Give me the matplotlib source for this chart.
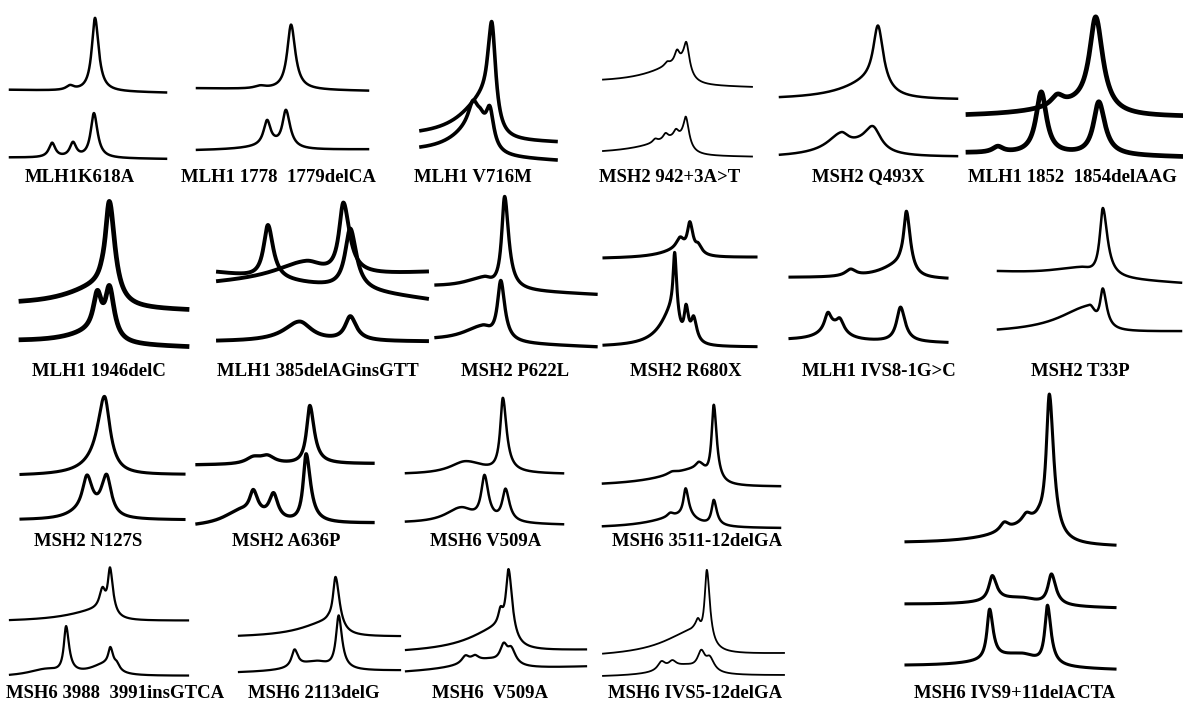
import numpy as np
import matplotlib.pyplot as plt

# Chromatogram traces: each trace = ((baseline left, baseline right), [(retention, height, width left, width right), ...])
# retention in 0..10, signal in 0..100 (relative to the panel)
k618a = [((48, 46), [(3.85, 3, .3, .3), (5.45, 51, .25, .28)]),
         ((1, 0), [(2.7, 10, .25, .25), (4.04, 10, .25, .25), (5.38, 31, .25, .28)])]
delca = [((49, 47), [(3.7, 2, .4, .4), (5.5, 50, .27, .3)]),
         ((1, 2), [(4.5, 3, 2, .5), (4.1, 19, .25, .25), (5.2, 29, .25, .3)])]
v716m = [((17, 14), [(4.9, 30, 2.2, .4), (5.26, 67, .3, .35)]),
         ((6, 1), [(4.3, 25, 2.0, .6), (3.85, 14, .4, .4), (5.1, 26, .35, .35)])]
msh2_942 = [((62, 59), [(5.3, 18, 2.5, .5), (4.3, 3, .2, .2), (4.97, 10, .2, .2), (5.6, 22, .2, .25)]),
            ((2.5, 1), [(5.3, 15, 2.8, .45), (3.5, 3, .2, .2), (4.2, 5, .2, .2), (4.9, 6, .2, .2), (5.57, 21, .18, .25)])]
q493x = [((44, 44), [(5.3, 14, 2.0, .8), (5.54, 42, .32, .35)]),
         ((1, 1.5), [(4.3, 7, 2, 1.2), (3.45, 11, .9, .5), (5.25, 18, .6, .55)])]
aag = [((28, 28), [(5.5, 8, 2.5, .8), (4.19, 7, .35, .35), (6.0, 62, .35, .4)]),
       ((3.4, .7), [(1.4, 4, .3, .3), (3.44, 42, .3, .3), (6.14, 36, .3, .35)])]

delc = [((28, 25), [(4.8, 14, 2.5, .5), (5.33, 66, .3, .4)]),
        ((3.4, 0), [(4.5, 8, 2.0, .6), (4.6, 24, .3, .3), (5.33, 34, .3, .35)])]
gtt = [((50, 31), [(2.39, 38, .25, .3), (6.33, 43, .3, .35)]),
       ((42, 50), [(4.2, 12, 1.8, 1.0), (6.0, 50, .25, .35)]),
       ((1, 1), [(3.9, 14, .9, .7), (6.33, 17, .3, .35)])]
p622l = [((39.5, 34.7), [(3.0, 7, 1.5, .6), (4.29, 61, .22, .3)]),
         ((4, 0), [(2.9, 10, 1.5, .7), (4.05, 39, .25, .3)])]
r680x = [((68, 69), [(5.0, 6, 1.5, .6), (5.0, 8, .3, .3), (5.65, 23, .2, .25), (6.2, 6, .2, .3)]),
         ((0, 0), [(4.6, 30, 1.0, .35), (4.65, 42, .12, .15), (5.4, 24, .15, .2), (5.9, 18, .2, .25)])]
ivs8 = [((49, 48), [(7.0, 10, 1.5, .4), (3.86, 5, .4, .4), (7.42, 46, .22, .3)]),
        ((2, 0), [(2.8, 10, 1.0, .8), (2.41, 12, .25, .25), (3.18, 8, .25, .3), (7.04, 26, .3, .35)])]
t33p = [((48, 39.5), [(4.5, 7, 2.0, .8), (5.73, 54, .2, .3)]),
        ((0, 1.3), [(5.0, 20, 2.0, .4), (5.73, 30, .18, .25)])]

n127s = [((35.7, 36.5), [(5.0, 10, 1.2, .6), (5.13, 54, .5, .4)]),
         ((0, 0), [(3.5, 4, 1, 1), (4.05, 30, .35, .4), (5.25, 33, .4, .35)])]
a636p = [((50, 51), [(3.2, 5, .5, .5), (4.0, 6, .5, .5), (6.41, 47, .22, .3)]),
         ((0, 2.7), [(2.5, 12, 1.2, 1.5), (3.2, 18, .25, .3), (4.35, 20, .3, .3), (6.2, 55, .2, .3)])]
v509a = [((39.5, 39.5), [(3.8, 10, 1.2, 1.5), (6.17, 57, .2, .28)]),
         ((1.3, 0), [(3.5, 12, 1.2, 1.0), (5.0, 34, .25, .3), (6.34, 25, .25, .3)])]
ga3511 = [((34.7, 34.7), [(5.5, 14, 2.5, .5), (3.9, 2, .3, .3), (5.4, 4, .2, .2), (6.26, 61, .15, .2)]),
          ((1.3, 1.3), [(4.5, 10, 2.0, 1.0), (3.8, 3, .2, .2), (4.67, 22, .15, .2), (6.26, 20, .15, .2)])]

gtca = [((50.8, 51.7), [(5.0, 10, 2.0, .5), (5.2, 18, .2, .2), (5.62, 42, .15, .2)]),
        ((0, 1), [(2.0, 6, 1.2, 1.0), (3.15, 42, .15, .2), (5.3, 10, 1.0, .6), (5.64, 18, .15, .2), (6.0, 5, .15, .2)])]
delg = [((37, 38), [(5.5, 15, 2.0, .5), (6.0, 55, .2, .3)]),
        ((0, 2.4), [(4.8, 10, 1.5, 1.0), (3.45, 18, .22, .25), (6.19, 55, .2, .25)])]
v509a2 = [((19, 22), [(5.2, 22, 2.0, .5), (5.25, 12, .15, .15), (5.7, 66, .18, .25)]),
          ((0, 6), [(4.5, 9, 2.0, 1.0), (3.3, 7, .25, .25), (3.83, 5, .25, .25), (5.43, 17, .25, .25), (5.85, 14, .25, .3)])]
ivs5 = [((18.75, 22), [(5.0, 22, 2.0, .6), (5.25, 10, .15, .15), (5.74, 70, .15, .2)]),
        ((0, 1.5), [(4.5, 9, 1.5, 1.0), (3.23, 8, .25, .25), (3.83, 6, .25, .25), (5.43, 17, .25, .25), (5.9, 12, .25, .3)])]
acta = [((45.5, 44.6), [(6.3, 8, 2.0, .5), (4.7, 3, .25, .25), (5.76, 3, .25, .25), (6.86, 51, .18, .25)]),
        ((23.5, 22.3), [(5.5, 3, 2, 1), (4.13, 9, .2, .25), (6.96, 11, .2, .25)]),
        ((1.2, 0), [(5.5, 5, 2.0, 1.0), (4.0, 18, .15, .2), (6.77, 21, .15, .2)])]

labels = ["MLH1K618A", "MLH1 1778  1779delCA", "MLH1 V716M", "MSH2 942+3A>T", "MSH2 Q493X",
          "MLH1 1852  1854delAAG",
          "MLH1 1946delC", "MLH1 385delAGinsGTT", "MSH2 P622L", "MSH2 R680X", "MLH1 IVS8-1G>C",
          "MSH2 T33P",
          "MSH2 N127S", "MSH2 A636P", "MSH6 V509A", "MSH6 3511-12delGA",
          "MSH6 3988  3991insGTCA", "MSH6 2113delG", "MSH6  V509A", "MSH6 IVS5-12delGA",
          "MSH6 IVS9+11delACTA"]
panels = [k618a, delca, v716m, msh2_942, q493x, aag,
          delc, gtt, p622l, r680x, ivs8, t33p,
          n127s, a636p, v509a, ga3511,
          gtca, delg, v509a2, ivs5, acta]

# layout in pixels: (left, right, top, bottom) of the traces, label centre, line width
W, H = 1183, 703
boxes = [(10, 166, 15, 159), (197, 368, 22, 152), (421, 556, 21, 162), (603, 752, 38, 158),
         (780, 957, 24, 159), (968, 1181, 11, 158),
         (21, 187, 200, 347), (218, 427, 202, 343), (436, 596, 196, 347), (604, 756, 217, 347),
         (790, 947, 210, 343), (998, 1181, 207, 333),
         (21, 184, 396, 520), (197, 373, 403, 527), (406, 563, 397, 525), (603, 780, 405, 530),
         (10, 188, 568, 677), (239, 400, 577, 673), (406, 586, 568, 673), (603, 784, 570, 677),
         (906, 1115, 393, 670)]
label_xy = [(80, 177), (278, 177), (473, 177), (670, 177), (868, 177), (1072, 177),
            (99, 372), (318, 372), (515, 372), (686, 372), (879, 372), (1080, 372),
            (88, 542), (286, 542), (486, 542), (697, 542),
            (115, 693), (314, 693), (490, 693), (695, 693), (1015, 693)]
widths = [1.8, 1.8, 2.6, 1.3, 1.8, 3.4,
          3.4, 2.8, 2.4, 2.2, 2.2, 1.8,
          2.2, 2.4, 1.8, 1.8,
          1.6, 1.6, 1.6, 1.3, 2.2]


def trace(t, base, peaks):
    y = base[0] + (base[1] - base[0]) * t / 10
    for pos, h, wl, wr in peaks:
        w = np.where(t < pos, wl, wr)
        y = y + h / (1 + ((t - pos) / w) ** 2)
    return y


fig = plt.figure(figsize=(W / 100, H / 100), dpi=100)
t = np.linspace(0, 10, 800)

for curves, (x0, x1, y0, y1), lw in zip(panels, boxes, widths):
    ax = fig.add_axes([x0 / W, 1 - y1 / H, (x1 - x0) / W, (y1 - y0) / H])
    for base, peaks in curves:
        ax.plot(t, trace(t, base, peaks), color='black', lw=lw,
                solid_joinstyle='round', clip_on=False)
    ax.set_xlim(0, 10)
    ax.set_ylim(0, 100)
    ax.axis('off')

for name, (cx, cy) in zip(labels, label_xy):
    fig.text(cx / W, 1 - cy / H, name, ha='center', va='center',
             fontsize=13.5, fontweight='bold', family='Liberation Serif')

fig.savefig('out.png', dpi=100)
